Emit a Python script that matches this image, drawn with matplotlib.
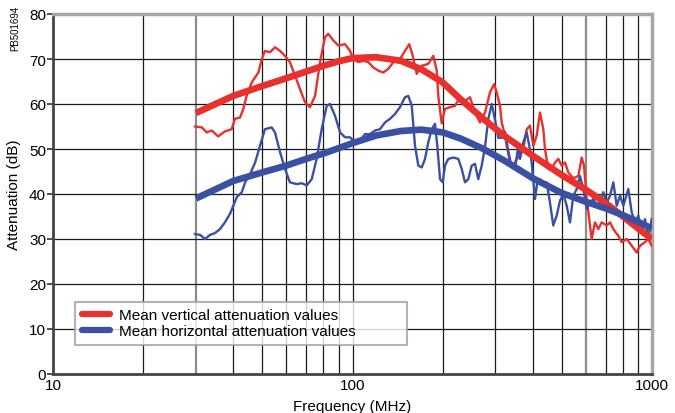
import matplotlib
matplotlib.use("Agg")
import matplotlib.pyplot as plt

plt.rcParams['font.family'] = ['Liberation Sans', 'DejaVu Sans']

# measured traces (frequency in MHz, attenuation in dB)
red_f = [29.8, 31.4, 32.6, 33.9, 35.6, 37.5, 39.5, 40.5, 42.1, 43.2, 44.3, 46.1, 48.5, 49.8,
         51.0, 53.0, 55.1, 57.3, 59.5, 61.8, 64.3, 66.8, 69.4, 72.1, 75.0, 77.9, 80.9, 83.0,
         86.3, 89.7, 94.4, 98.1, 100.6, 104.6, 108.7, 112.9, 117.4, 122.0, 126.7, 131.7, 136.9,
         144.1, 149.7, 154.7, 158.9, 163.8, 170.3, 179.1, 186.1, 191.0, 193.4, 198.5, 203.6,
         211.6, 219.9, 228.5, 237.5, 246.8, 256.4, 266.5, 277.0, 287.8, 296.8, 303.0, 310.8,
         314.9, 323.0, 327.3, 335.7, 344.3, 353.4, 362.5, 371.8, 381.6, 391.5, 401.6, 412.1,
         422.7, 433.6, 439.3, 450.6, 462.5, 474.4, 486.6, 499.5, 512.3, 525.5, 546.0, 567.5,
         582.5, 592.9, 605.3, 620.8, 629.0, 645.1, 661.7, 679.3, 706.0, 724.2, 742.8, 771.9,
         792.3, 823.3, 855.6, 889.1, 912.0, 947.6, 971.9, 997.7]
red_db = [55.0, 54.8, 53.7, 54.1, 52.8, 53.9, 54.4, 56.7, 57.0, 58.9, 61.8, 64.8, 67.0, 70.0,
          71.8, 71.5, 72.6, 71.8, 70.7, 69.3, 66.3, 63.3, 60.4, 59.3, 61.8, 69.3, 74.8, 75.6,
          74.1, 73.0, 73.3, 71.8, 70.0, 69.3, 69.6, 69.3, 68.1, 67.4, 67.0, 67.8, 69.3,
          70.0, 71.8, 73.3, 70.7, 66.7, 68.5, 68.9, 70.7, 67.5, 61.8, 55.7, 58.9,
          59.3, 59.6, 61.5, 60.7, 61.5, 58.1, 55.9, 58.1, 62.6, 64.4, 62.6, 59.6,
          55.9, 53.0, 50.7, 47.0, 46.3, 47.8, 48.5, 50.0, 54.4, 55.2, 50.7, 53.0,
          58.1, 54.4, 50.0, 45.6, 45.6, 47.0, 47.8, 46.3, 47.0, 44.8, 43.5, 44.0,
          48.1, 46.3, 38.9, 33.0, 30.0, 33.7, 32.2, 33.7, 33.0, 33.7, 32.2, 30.7,
          29.3, 30.0, 28.5, 27.0, 28.5, 29.3, 30.0, 28.5]

blue_f = [29.8, 31.0, 32.2, 33.4, 34.7, 36.1, 37.5, 39.0, 40.0, 41.1, 42.7, 43.8, 45.5, 47.3,
          49.1, 51.0, 53.7, 55.1, 57.3, 59.5, 61.8, 65.1, 67.7, 70.3, 73.1, 75.9, 78.9, 82.0,
          84.1, 87.4, 90.9, 94.4, 98.1, 101.9, 105.9, 110.1, 114.4, 118.9, 123.5, 128.4, 133.4,
          138.7, 144.1, 149.7, 153.6, 157.7, 161.7, 165.9, 170.3, 174.6, 179.1, 183.8, 188.6,
          191.9, 196.0, 200.1, 203.6, 208.9, 217.1, 225.6, 231.5, 237.5, 243.6, 250.0, 256.4,
          263.0, 270.0, 277.0, 284.1, 291.6, 299.1, 306.8, 314.9, 323.0, 331.3, 340.1, 348.8,
          357.8, 362.5, 371.8, 381.6, 389.3, 396.5, 406.8, 414.0, 422.7, 433.6, 444.9, 456.4,
          468.1, 480.5, 492.9, 505.6, 519.0, 532.3, 546.0, 560.5, 574.9, 589.7, 605.3, 620.8,
          636.8, 653.7, 670.5, 687.7, 706.0, 724.2, 742.8, 762.4, 782.1, 802.3, 833.5, 855.6,
          877.5, 900.2, 923.9, 947.6, 971.9, 997.7]
blue_db = [31.1, 30.9, 30.0, 30.9, 31.3, 32.2, 33.7, 35.6, 37.4, 39.3, 40.4, 42.6, 44.4, 47.0,
           50.7, 54.4, 54.8, 53.7, 49.3, 45.6, 42.6, 42.2, 42.4, 41.9, 43.3, 47.8, 54.4, 59.6,
           60.0, 57.4, 53.7, 52.6, 52.6, 51.5, 51.9, 53.3, 53.3, 54.1, 54.4, 55.9, 56.7,
           57.8, 59.3, 61.5, 61.8, 59.6, 50.7, 46.3, 45.9, 47.8, 51.5, 54.4, 55.6,
           50.7, 43.3, 42.6, 46.3, 47.8, 48.1, 47.8, 45.6, 42.6, 43.3, 46.3, 46.7,
           43.3, 46.3, 50.5, 56.7, 60.0, 56.5, 52.5, 52.5, 53.8, 49.5, 46.0, 45.6,
           50.7, 47.8, 51.5, 53.7, 50.7, 47.0, 38.9, 42.6, 43.3, 41.9, 42.6, 38.1,
           33.0, 35.2, 38.5, 40.0, 37.4, 33.7, 39.6, 41.1, 44.0, 41.1, 36.7, 38.1,
           38.9, 37.4, 38.1, 40.4, 38.1, 39.6, 42.6, 37.4, 39.6, 37.4, 41.1, 35.9,
           33.7, 35.2, 31.5, 34.4, 30.0, 34.4]

# mean curves
mean_f = [30, 40, 50, 60, 70, 80, 90, 100, 120, 145, 170, 200, 230, 270, 320, 400, 500,
          600, 700, 800, 900, 1000]
mean_red = [58.0, 61.8, 64.0, 65.7, 67.2, 68.5, 69.5, 70.2, 70.4, 69.6, 67.7, 64.8, 61.0,
            57.0, 53.0, 48.5, 44.2, 41.0, 38.0, 35.0, 32.3, 30.0]
mean_blue = [39.0, 42.9, 44.8, 46.3, 47.8, 49.0, 50.2, 51.3, 53.0, 54.0, 54.3, 53.7, 52.3,
             50.2, 47.5, 43.5, 40.2, 38.3, 36.8, 35.3, 33.8, 32.3]

labels = ["Mean vertical attenuation values", "Mean horizontal attenuation values"]
red = "#e8302c"
blue = "#3a50a3"

fig = plt.figure(figsize=(6.75, 4.14), dpi=100)
ax = fig.add_axes([53 / 675, 39 / 414, 599 / 675, 360 / 414])

ax.plot(red_f, red_db, color=red, lw=1.7, zorder=3)
ax.plot(blue_f, blue_db, color=blue, lw=1.7, zorder=3)
ax.plot(mean_f, mean_red, color=red, lw=4.8, solid_capstyle='butt', zorder=4, label=labels[0])
ax.plot(mean_f, mean_blue, color=blue, lw=4.8, solid_capstyle='butt', zorder=4, label=labels[1])

ax.set_xscale('log')
ax.set_xlim(10, 1000)
ax.set_ylim(0, 80)
ax.set_xticks([10, 100, 1000])
ax.set_xticklabels(["10", "100", "1000"])
minor = [20, 30, 40, 50, 60, 70, 80, 90, 200, 300, 400, 500, 600, 700, 800, 900]
ax.set_xticks(minor, minor=True)
ax.set_yticks(range(0, 81, 10))
ax.tick_params(axis='x', which='minor', length=0, labelbottom=False)
ax.tick_params(axis='x', which='major', length=0, pad=3, labelsize=11)
ax.tick_params(axis='y', length=4, width=1.2, color='#333333', pad=1, labelsize=11)

for f in [20, 40, 50, 60, 70, 80, 90, 100, 200, 300, 400, 500, 700, 800, 900]:
    ax.axvline(f, color='#1a1a1a', lw=0.9, zorder=1)
for f in [30, 600]:
    ax.axvline(f, color='#8c8c8c', lw=1.6, zorder=1)
for y in range(10, 80, 10):
    ax.axhline(y, color='#1a1a1a', lw=0.9, zorder=1)

ax.spines['left'].set_color('#444444')
ax.spines['left'].set_linewidth(2)
ax.spines['bottom'].set_color('#444444')
ax.spines['bottom'].set_linewidth(2)
ax.spines['top'].set_color('#a6a6a6')
ax.spines['top'].set_linewidth(2.5)
ax.spines['right'].set_color('#a6a6a6')
ax.spines['right'].set_linewidth(2.5)

ax.set_xlabel("Frequency (MHz)", fontsize=11, labelpad=5)
ax.set_ylabel("Attenuation (dB)", fontsize=11, labelpad=6)

leg = ax.legend(loc='lower left', bbox_to_anchor=(0.037, 0.081, 0.554, 0.133), mode='expand',
                borderaxespad=0, fontsize=11, frameon=True, fancybox=False,
                handlelength=1.8, handletextpad=0.6, borderpad=0.45, labelspacing=0.1)
leg.get_frame().set_edgecolor('#a0a0a0')
leg.get_frame().set_linewidth(1.5)
leg.set_zorder(6)
for h in leg.get_lines():
    h.set_linewidth(4.5)
    h.set_solid_capstyle('round')

fig.text(15 / 675, 1 - 28 / 414, "PB501694", rotation=90, fontsize=7, ha='center', va='center')

fig.savefig("out.png", dpi=100)
